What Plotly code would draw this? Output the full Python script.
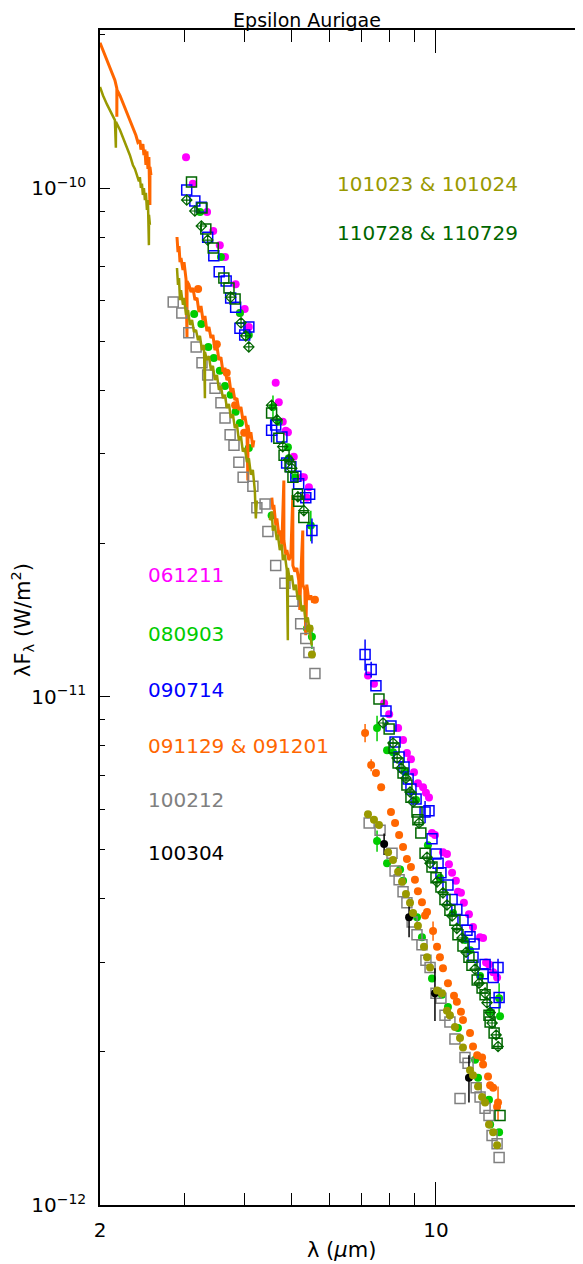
import math
import plotly.graph_objects as go

# ---------------- data (wavelength in micron, lambda*F_lambda in W/m^2) ----------------
# 061211 (magenta filled circles)
mag_x = [3.02,3.12,3.34,3.44,3.55,3.64,3.83,3.91,4.00,4.08,
         4.64,4.71,4.80,4.87,4.92,5.06,5.26,5.31,5.39,5.44,
         7.22,7.43,7.80,7.99,8.34,8.54,8.70,8.87,9.00,9.17,9.40,9.53,9.67,9.81,9.95,10.34,10.54,10.64,10.80,11.00,
         11.11,11.27,11.43,11.71,11.94,12.35,12.53,12.71,12.89,13.15,13.40]
mag_y = [1.15e-10,1.02e-10,8.97e-11,8.23e-11,7.72e-11,7.32e-11,6.47e-11,5.68e-11,5.78e-11,5.33e-11,
         4.14e-11,3.79e-11,3.47e-11,3.33e-11,3.31e-11,2.96e-11,2.70e-11,2.70e-11,2.46e-11,2.58e-11,
         1.10e-11,1.06e-11,9.70e-12,9.23e-12,8.67e-12,8.21e-12,7.74e-12,7.53e-12,7.10e-12,6.75e-12,6.63e-12,6.47e-12,6.33e-12,5.39e-12,5.34e-12,4.94e-12,4.90e-12,4.68e-12,4.50e-12,4.34e-12,
         4.13e-12,4.11e-12,3.93e-12,3.73e-12,3.52e-12,3.36e-12,3.35e-12,3.00e-12,2.97e-12,2.87e-12,2.80e-12]

# 080903 (green filled circles)
grn_x = [3.23,3.57,3.91,4.08,
         3.14,3.25,3.36,3.45,3.55,3.64,3.74,3.83,3.91,4.08,
         4.58,4.71,4.92,4.94,5.09,5.49,
         4.55,5.39,5.52,
         7.54,7.91,8.14,8.62,9.09,9.62,10.19,10.85,11.49,11.77,12.35,12.96,13.59,13.53,
         7.54,7.91,8.42,8.54,9.13,9.35,9.81,10.29,10.59,11.11,12.06,12.23,12.89,12.96,13.53]
grn_y = [8.97e-11,7.32e-11,5.68e-11,5.14e-11,
         5.65e-11,5.40e-11,4.87e-11,4.63e-11,4.37e-11,4.08e-11,3.92e-11,3.63e-11,3.45e-11,3.08e-11,
         3.71e-11,3.47e-11,3.09e-11,2.94e-11,2.70e-11,2.17e-11,
         2.27e-11,1.36e-11,1.31e-11,
         8.67e-12,7.84e-12,7.77e-12,7.10e-12,6.26e-12,5.10e-12,4.40e-12,3.75e-12,3.32e-12,3.17e-12,2.82e-12,2.40e-12,2.35e-12,2.55e-12,
         5.20e-12,4.70e-12,4.57e-12,4.34e-12,3.68e-12,3.36e-12,2.79e-12,2.59e-12,2.45e-12,2.23e-12,1.93e-12,1.78e-12,1.61e-12,1.44e-12,1.39e-12]
grn_err = [0,0,0,0,
           0,0,0,0,0,0,0,0,0,0,
           2.0e-12,0,0,0,0,1.5e-12,
           0,0,7e-13,
           5e-13,0,0,0,0,0,0,0,0,0,0,0,0,1.8e-13,
           2.5e-13,0,0,0,0,0,0,0,0,0,0,0,0,0,0]

# 090714 (blue open squares)
blu_x = [3.03,3.15,3.25,3.35,3.45,3.54,3.66,3.74,3.83,3.91,4.00,4.08,
         4.55,4.64,4.78,4.89,4.99,5.11,5.18,5.36,5.46,5.52,
         7.12,7.33,7.50,7.87,8.06,8.22,8.38,8.58,8.75,8.87,9.09,9.49,9.67,9.81,10.00,10.10,10.24,10.59,10.80,
         11.05,11.38,11.60,11.77,12.00,11.94,12.65,12.53,13.46,13.15,13.53,13.27]
blu_y = [9.91e-11,9.43e-11,9.17e-11,8.00e-11,7.36e-11,6.84e-11,6.56e-11,6.08e-11,5.83e-11,5.30e-11,5.14e-11,5.33e-11,
         3.34e-11,3.42e-11,3.24e-11,2.88e-11,2.83e-11,2.71e-11,2.62e-11,2.46e-11,2.50e-11,2.12e-11,
         1.21e-11,1.13e-11,1.05e-11,9.36e-12,8.75e-12,8.14e-12,7.60e-12,7.27e-12,6.88e-12,6.58e-12,6.29e-12,5.93e-12,5.96e-12,5.25e-12,4.90e-12,4.70e-12,4.50e-12,4.26e-12,3.99e-12,
         3.81e-12,3.63e-12,3.47e-12,3.37e-12,3.26e-12,3.07e-12,2.97e-12,2.85e-12,2.93e-12,2.80e-12,2.56e-12,2.50e-12]
blu_err = [0,0,0,0,0,0,0,0,0,0,0,0,
           1.8e-12,0,0,0,0,0,0,0,0,1.2e-12,
           8.5e-13,4e-13,0,0,0,0,0,0,0,0,0,3e-13,0,0,0,0,0,0,0,
           0,0,0,0,0,0,0,0,1.2e-13,0,0,0]

# 091129 & 091201 (orange): spectra + photometry
orn_spec1_x = [2.000,2.048,2.097,2.148,2.168,2.168,2.169,2.201,2.254,2.308,2.341,2.375,2.398,2.421,2.433,2.456,2.468,2.480,2.492,2.504,2.516,2.528,2.540,2.541,2.553]
orn_spec1_y = [1.93e-10,1.82e-10,1.72e-10,1.63e-10,1.57e-10,1.38e-10,1.56e-10,1.52e-10,1.44e-10,1.36e-10,1.31e-10,1.27e-10,1.23e-10,1.24e-10,1.19e-10,1.22e-10,1.16e-10,1.19e-10,1.11e-10,1.18e-10,1.09e-10,1.15e-10,9.26e-11,1.10e-10,1.06e-10]
orn_spec2_x = [2.892,2.906,2.920,2.934,2.948,2.976,2.991,3.020,3.034,3.035,3.063,3.093,3.122,3.152,3.183,3.213,3.244,3.275,3.306,3.338,
               3.370,3.403,3.435,3.468,3.502,3.535,3.569,3.604,3.638,3.673,3.709,3.745,3.780,3.816,3.853,3.890,3.928,3.965,4.003,4.042,
               4.061,4.062,4.100,4.120,4.159,4.179]
orn_spec2_y = [8.01e-11,7.48e-11,7.69e-11,7.15e-11,7.28e-11,6.90e-11,7.15e-11,6.62e-11,5.09e-11,6.56e-11,6.45e-11,6.24e-11,6.36e-11,6.02e-11,6.08e-11,5.70e-11,5.86e-11,5.50e-11,5.60e-11,5.23e-11,
               5.33e-11,5.07e-11,5.14e-11,4.80e-11,4.89e-11,4.59e-11,4.65e-11,4.35e-11,4.43e-11,4.19e-11,4.25e-11,3.97e-11,4.04e-11,3.83e-11,3.86e-11,3.66e-11,3.71e-11,3.50e-11,3.56e-11,3.37e-11,
               2.66e-11,3.42e-11,3.22e-11,3.31e-11,3.09e-11,3.19e-11]
orn_spec3_x = [4.555,4.577,4.599,4.643,4.666,4.710,4.733,4.779,4.825,4.826,4.871,4.895,4.942,4.989,5.037,5.038,5.085,5.134,5.183,5.208,
               5.233,5.283,5.284,5.334,5.359,5.385,5.437,5.489,5.542]
orn_spec3_y = [2.46e-11,2.33e-11,2.38e-11,2.17e-11,2.24e-11,2.08e-11,2.12e-11,1.99e-11,2.66e-11,2.03e-11,1.90e-11,1.94e-11,1.855e-11,1.89e-11,2.49e-11,1.81e-11,1.76e-11,1.79e-11,1.69e-11,1.48e-11,
               1.73e-11,2.12e-11,1.66e-11,1.62e-11,1.32e-11,1.66e-11,1.55e-11,1.58e-11,1.53e-11]
orn_x = [3.20,3.50,3.67,3.82,3.99,5.60,
         7.12,7.33,7.50,7.69,8.06,8.22,8.38,8.54,8.70,8.87,9.04,9.17,9.35,9.49,9.58,9.86,10.05,10.19,10.34,10.59,
         10.90,11.05,11.27,11.38,11.77,11.94,12.18,12.47,12.53,12.83,12.96,13.15,13.40,13.46]
orn_y = [6.33e-11,4.93e-11,4.33e-11,3.74e-11,3.30e-11,1.55e-11,
         8.48e-12,7.33e-12,7.07e-12,6.63e-12,5.93e-12,5.64e-12,5.34e-12,5.06e-12,4.79e-12,4.62e-12,4.36e-12,4.14e-12,3.94e-12,3.71e-12,3.77e-12,3.46e-12,3.22e-12,3.07e-12,2.92e-12,2.73e-12,
         2.58e-12,2.51e-12,2.40e-12,2.31e-12,2.18e-12,2.05e-12,1.97e-12,1.95e-12,1.89e-12,1.79e-12,1.72e-12,1.70e-12,1.56e-12,1.59e-12]
orn_err = [0,0,0,0,0,0,
           3.5e-13,2e-13,0,0,0,0,0,0,0,0,0,0,0,0,0,1.5e-13,0,0,0,0,
           0,0,0,0,0,0,0,0,0,0,0,0,0,1.2e-13]

# 100212 (grey open squares)
gry_x = [2.84,2.96,3.06,3.17,3.26,3.35,3.47,3.57,3.64,3.73,3.80,3.89,3.97,4.16,
         4.24,4.41,4.47,4.64,4.85,5.04,5.23,5.36,5.44,5.60,
         7.26,7.65,8.10,8.22,8.38,8.54,8.70,8.92,9.13,9.35,9.53,9.72,10.00,10.24,10.44,10.69,10.95,11.22,11.49,11.66,
         12.12,12.35,12.65,12.89,13.08,13.40,13.53]
gry_y = [5.97e-11,5.68e-11,5.19e-11,4.87e-11,4.53e-11,4.29e-11,4.04e-11,3.78e-11,3.53e-11,3.27e-11,3.12e-11,2.89e-11,2.70e-11,2.59e-11,
         2.35e-11,2.39e-11,2.11e-11,1.81e-11,1.67e-11,1.54e-11,1.39e-11,1.30e-11,1.22e-11,1.11e-11,
         5.64e-12,5.46e-12,4.92e-12,4.54e-12,4.36e-12,4.13e-12,3.93e-12,3.60e-12,3.40e-12,3.25e-12,3.03e-12,2.93e-12,2.61e-12,2.55e-12,2.36e-12,2.29e-12,2.12e-12,1.62e-12,1.95e-12,1.90e-12,
         1.70e-12,1.63e-12,1.55e-12,1.50e-12,1.37e-12,1.32e-12,1.24e-12]

# 100304 (black filled circles)
blk_x = [7.80,8.79,9.95,11.71]
blk_y = [5.13e-12,3.68e-12,2.61e-12,1.78e-12]
blk_err = [2.5e-13,3.2e-13,3.1e-13,1.9e-13]

# 101023 & 101024 (olive): spectra + photometry
olv_spec1_x = [2.000,2.029,2.068,2.108,2.148,2.158,2.159,2.201,2.254,2.308,2.341,2.364,2.387,2.410,2.421,2.433,2.445,2.456,2.468,2.480,2.492,2.504,2.516,2.528,2.529,2.540]
olv_spec1_y = [1.58e-10,1.52e-10,1.46e-10,1.41e-10,1.36e-10,1.20e-10,1.35e-10,1.30e-10,1.23e-10,1.16e-10,1.11e-10,1.09e-10,1.06e-10,1.03e-10,1.05e-10,1.00e-10,1.02e-10,9.69e-11,1.00e-10,9.47e-11,9.78e-11,9.05e-11,9.47e-11,7.72e-11,8.85e-11,8.46e-11]
olv_spec2_x = [2.892,2.906,2.920,2.934,2.948,2.976,2.991,3.020,3.049,3.078,3.108,3.137,3.168,3.198,3.228,3.259,3.291,3.306,3.307,3.338,
               3.370,3.403,3.435,3.468,3.502,3.535,3.569,3.604,3.638,3.673,3.709,3.745,3.780,3.816,3.853,3.890,3.928,3.965,4.003,4.042,
               4.081,4.120,4.159,4.199,4.219,4.239]
olv_spec2_y = [6.96e-11,6.45e-11,6.65e-11,6.02e-11,6.30e-11,5.89e-11,6.08e-11,5.63e-11,5.75e-11,5.38e-11,5.50e-11,5.21e-11,5.26e-11,5.02e-11,5.12e-11,4.80e-11,4.91e-11,3.86e-11,4.76e-11,4.59e-11,
               4.67e-11,4.38e-11,4.47e-11,4.19e-11,4.29e-11,4.01e-11,4.08e-11,3.86e-11,3.92e-11,3.69e-11,3.76e-11,3.53e-11,3.59e-11,3.37e-11,3.43e-11,3.19e-11,3.25e-11,3.03e-11,3.08e-11,2.89e-11,
               2.94e-11,2.73e-11,2.79e-11,2.54e-11,2.24e-11,2.43e-11]
olv_spec3_x = [4.512,4.555,4.577,4.621,4.666,4.688,4.733,4.779,4.802,4.848,4.895,4.918,4.919,4.965,5.013,5.061,5.110,5.158,5.208,5.258,
               5.309,5.359,5.411,5.463,5.515]
olv_spec3_y = [2.22e-11,2.31e-11,2.12e-11,2.17e-11,2.03e-11,2.08e-11,1.94e-11,1.99e-11,1.855e-11,1.90e-11,1.77e-11,1.29e-11,1.79e-11,1.69e-11,1.73e-11,1.62e-11,1.66e-11,1.55e-11,1.58e-11,1.47e-11,
               1.51e-11,1.40e-11,1.43e-11,1.34e-11,1.26e-11]
olv_x = [5.46,5.52,
         7.22,7.43,7.61,7.95,8.14,8.34,8.50,8.66,8.83,8.96,9.17,9.44,9.58,9.72,10.05,10.29,10.54,10.69,10.95,11.22,
         11.38,11.77,11.94,12.23,12.47,12.65,12.89,13.15,13.40]
olv_y = [1.36e-11,1.21e-11,
         5.87e-12,5.72e-12,5.59e-12,4.94e-12,4.77e-12,4.52e-12,4.32e-12,4.09e-12,3.93e-12,3.75e-12,3.54e-12,3.22e-12,3.07e-12,2.93e-12,2.64e-12,2.61e-12,2.41e-12,2.36e-12,2.24e-12,2.13e-12,
         2.04e-12,1.84e-12,1.80e-12,1.71e-12,1.63e-12,1.59e-12,1.44e-12,1.39e-12,1.31e-12]

# 110728 & 110729 (dark green: open squares and crossed diamonds)
dgs_x = [3.10,3.26,3.32,3.44,3.62,3.71,3.82,
         4.55,4.71,4.83,4.97,5.04,5.15,5.18,5.31,
         7.61,7.99,8.18,8.34,8.54,8.70,8.87,9.13,9.17,9.30,9.49,9.81,10.00,10.24,10.44,10.69,10.95,11.11,11.38,11.71,
         11.88,12.18,12.47,12.65,12.89,12.96,13.21,13.40,13.59]
dgs_y = [1.027e-10,9.13e-11,8.31e-11,7.62e-11,6.65e-11,6.36e-11,6.05e-11,
         3.61e-11,3.22e-11,2.98e-11,2.83e-11,2.70e-11,2.50e-11,2.42e-11,2.25e-11,
         9.89e-12,8.63e-12,7.92e-12,7.40e-12,7.07e-12,6.70e-12,6.34e-12,5.93e-12,5.72e-12,5.39e-12,4.92e-12,4.62e-12,4.40e-12,4.22e-12,3.99e-12,3.80e-12,3.63e-12,3.40e-12,3.23e-12,3.07e-12,
         2.96e-12,2.77e-12,2.67e-12,2.59e-12,2.36e-12,2.29e-12,2.18e-12,2.08e-12,1.50e-12]
dgd_x = [3.03,3.15,3.25,3.35,3.74,3.93,4.02,4.08,
         4.55,4.67,4.80,4.94,5.01,5.16,5.31,
         7.76,8.14,8.30,8.46,8.66,8.83,8.96,9.22,9.58,9.72,10.05,10.34,10.54,10.80,11.05,11.33,11.55,12.06,12.29,12.65,
         12.77,12.96,13.08,13.34,13.46]
dgd_y = [9.47e-11,9.01e-11,8.42e-11,7.90e-11,6.10e-11,5.43e-11,5.12e-11,4.87e-11,
         3.74e-11,3.50e-11,3.10e-11,2.92e-11,2.81e-11,2.47e-11,2.32e-11,
         8.87e-12,8.10e-12,7.57e-12,7.23e-12,6.91e-12,6.49e-12,6.20e-12,5.64e-12,4.83e-12,4.70e-12,4.32e-12,4.11e-12,3.89e-12,3.70e-12,3.50e-12,3.35e-12,3.14e-12,2.91e-12,2.73e-12,2.61e-12,
         2.50e-12,2.39e-12,2.28e-12,2.16e-12,2.05e-12]

# labels / ticks
left_labels = ["061211", "080903", "090714", "091129 & 091201", "100212", "100304"]
right_labels = ["101023 & 101024", "110728 & 110729"]
x_tick_vals = [2, 10]
x_tick_text = ["2", "10"]
x_minor_vals = [3, 4, 5, 6, 7, 8, 9]
y_tick_vals = [1e-12, 1e-11, 1e-10]
y_tick_text = ["10<sup>\u221212</sup>", "10<sup>\u221211</sup>", "10<sup>\u221210</sup>"]

# ---------------- styling ----------------
MAG = "#ff00ff"; GRN = "#00cc00"; BLU = "#0000ff"; ORN = "#ff6600"
GRY = "#808080"; BLK = "#000000"; OLV = "#999900"; DKG = "#006600"
FONT = "DejaVu Sans"

fig = go.Figure()

def err(vals, color):
    return dict(type="data", array=vals, visible=True, color=color, thickness=1.5, width=0)

fig.add_trace(go.Scatter(x=mag_x, y=mag_y, mode="markers",
                         marker=dict(symbol="circle", size=8, color=MAG, line=dict(width=0))))
fig.add_trace(go.Scatter(x=grn_x, y=grn_y, mode="markers", error_y=err(grn_err, GRN),
                         marker=dict(symbol="circle", size=8, color=GRN, line=dict(width=0))))
fig.add_trace(go.Scatter(x=blu_x, y=blu_y, mode="markers", error_y=err(blu_err, BLU),
                         marker=dict(symbol="square-open", size=10, color=BLU, line=dict(width=1.5))))
for sx, sy in [(orn_spec1_x, orn_spec1_y), (orn_spec2_x, orn_spec2_y), (orn_spec3_x, orn_spec3_y)]:
    fig.add_trace(go.Scatter(x=sx, y=sy, mode="lines", line=dict(color=ORN, width=3)))
fig.add_trace(go.Scatter(x=orn_x, y=orn_y, mode="markers", error_y=err(orn_err, ORN),
                         marker=dict(symbol="circle", size=8, color=ORN, line=dict(width=0))))
fig.add_trace(go.Scatter(x=gry_x, y=gry_y, mode="markers",
                         marker=dict(symbol="square-open", size=10, color=GRY, line=dict(width=1.5))))
fig.add_trace(go.Scatter(x=blk_x, y=blk_y, mode="markers", error_y=err(blk_err, BLK),
                         marker=dict(symbol="circle", size=8, color=BLK, line=dict(width=0))))
for sx, sy in [(olv_spec1_x, olv_spec1_y), (olv_spec2_x, olv_spec2_y), (olv_spec3_x, olv_spec3_y)]:
    fig.add_trace(go.Scatter(x=sx, y=sy, mode="lines", line=dict(color=OLV, width=2.5)))
fig.add_trace(go.Scatter(x=olv_x, y=olv_y, mode="markers",
                         marker=dict(symbol="circle", size=8, color=OLV, line=dict(width=0))))
fig.add_trace(go.Scatter(x=dgs_x, y=dgs_y, mode="markers",
                         marker=dict(symbol="square-open", size=10, color=DKG, line=dict(width=1.5))))
fig.add_trace(go.Scatter(x=dgd_x, y=dgd_y, mode="markers",
                         marker=dict(symbol="diamond-cross-open", size=8, color=DKG, line=dict(width=1.2))))

# geometry (the page body adds an 8 px offset to the figure)
W, H = 583, 1264
OFF = 8
PL, PR, PT, PB = 100, 585, 30, 1205          # plot box in page pixels
L, R, T, B = PL - OFF, W - (PR - OFF), PT - OFF, H - (PB - OFF)
PW, PH = PR - PL, PB - PT
ppd_x = 480.7
ppd_y = 508.5
x0 = math.log10(2)
x1 = x0 + PW / ppd_x
y0 = -12
y1 = y0 + PH / ppd_y

axis_font = dict(family=FONT, size=20, color="black")

fig.update_layout(
    width=W, height=H, margin=dict(l=L, r=R, t=T, b=B, autoexpand=False),
    paper_bgcolor="white", plot_bgcolor="white", showlegend=False,
    title=dict(text="Epsilon Aurigae", x=(307 - OFF) / W, xanchor="center", xref="container",
               y=1 - (20 - OFF) / H, yanchor="middle", yref="container",
               font=dict(family=FONT, size=19, color="black")),
    xaxis=dict(type="log", range=[x0, x1], tickvals=x_tick_vals, ticktext=x_tick_text,
               ticks="inside", ticklen=23, tickwidth=1, tickcolor="black",
               showline=True, linecolor="black", linewidth=1.5, mirror="ticks",
               showgrid=False, zeroline=False, tickfont=axis_font, ticklabelstandoff=6,
               minor=dict(tickvals=x_minor_vals, ticks="inside", ticklen=12, tickwidth=1,
                          tickcolor="black", showgrid=False)),
    yaxis=dict(type="log", range=[y0, y1], tickvals=y_tick_vals, ticktext=y_tick_text,
               ticks="inside", ticklen=10, tickwidth=1, tickcolor="black",
               showline=True, linecolor="black", linewidth=1.5, mirror=False,
               showgrid=False, zeroline=False, tickfont=axis_font, ticklabelstandoff=8,
               minor=dict(ticks="inside", ticklen=5, tickwidth=1, tickcolor="black",
                          showgrid=False, dtick="D1")),
    yaxis2=dict(type="log", range=[y0, y1], overlaying="y", side="right",
                tickvals=y_tick_vals, showticklabels=False, ticks="inside", ticklen=10,
                tickwidth=1.5, tickcolor="black", showline=False, showgrid=False, zeroline=False,
                minor=dict(ticks="inside", ticklen=5, tickwidth=1, tickcolor="black",
                           showgrid=False, dtick="D1")),
)

# invisible anchor trace for the right-hand tick axis
fig.add_trace(go.Scatter(x=[3], y=[1e-11], yaxis="y2", mode="markers",
                         marker=dict(opacity=0), hoverinfo="skip"))

def px_to_paper(px, py):
    return (px - PL) / PW, (PB - py) / PH

# axis titles
ax, ay = px_to_paper(341, 1250)
fig.add_annotation(text="\u03bb (<i>\u03bc</i>m)", xref="paper", yref="paper", x=ax, y=ay,
                   xanchor="center", yanchor="middle", showarrow=False,
                   font=dict(family=FONT, size=21, color="black"))
ax, ay = px_to_paper(22, 620)
fig.add_annotation(text="\u03bbF<sub>\u03bb</sub> (W/m<sup>2</sup>)", xref="paper", yref="paper",
                   x=ax, y=ay, textangle=-90, xanchor="center", yanchor="middle", showarrow=False,
                   font=dict(family=FONT, size=21, color="black"))

# date labels
left_colors = [MAG, GRN, BLU, ORN, GRY, BLK]
left_py = [575, 634, 690, 746, 800, 853]
for txt, col, py in zip(left_labels, left_colors, left_py):
    ax, ay = px_to_paper(146, py)
    fig.add_annotation(text=txt, xref="paper", yref="paper", x=ax, y=ay,
                       xanchor="left", yanchor="middle", showarrow=False,
                       font=dict(family=FONT, size=20, color=col))
right_colors = [OLV, DKG]
right_py = [184, 233]
for txt, col, py in zip(right_labels, right_colors, right_py):
    ax, ay = px_to_paper(335, py)
    fig.add_annotation(text=txt, xref="paper", yref="paper", x=ax, y=ay,
                       xanchor="left", yanchor="middle", showarrow=False,
                       font=dict(family=FONT, size=20, color=col))

fig.write_html("out.html")
